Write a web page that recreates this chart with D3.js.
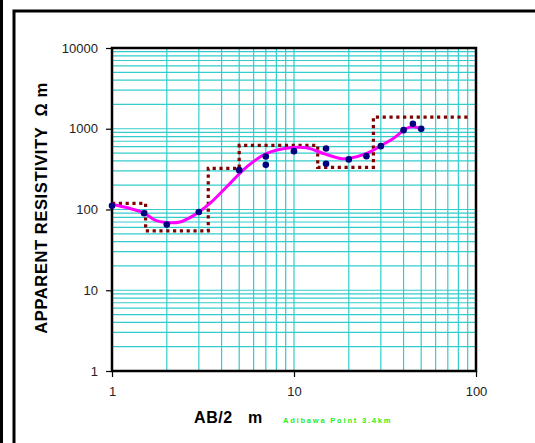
<!DOCTYPE html>
<html>
<head>
<meta charset="utf-8">
<script src="https://cdn.jsdelivr.net/npm/d3@7"></script>
<style>
body { margin: 0; background: #fff; }
text { font-family: Arial, "Liberation Sans", sans-serif; }
</style>
</head>
<body>
<div id="chart"></div>
<script>
// measured sounding points
var abHalf = [1, 1.5, 2, 3, 5, 7, 7, 10, 15, 15, 20, 25, 30, 40, 45, 50];
var rhoApp = [111, 90, 65, 93, 307, 454, 357, 528, 570, 368, 417, 458, 609, 961, 1150, 997];

// fitted curve
var curveAB = [1, 1.49, 1.72, 1.98, 2.36, 2.8, 3.45, 4.27, 5.5, 7.08, 9.5, 11.7, 14.5, 17.9, 19.9, 25.1, 29.7, 35.1, 41.6, 45.2, 49.2];
var curveRho = [116, 91, 74, 69, 70, 84, 119, 191, 338, 494, 580, 580, 494, 429, 427, 494, 609, 758, 1009, 1056, 1009];

// layer model (start of each layer, resistivity)
var layerTop = [1, 1.53, 3.38, 5.0, 13.5, 27.3, 93.5];
var layerRho = [119, 54.5, 323, 621, 332, 1392, 1392];

var xTicks = [1, 10, 100];
var yTicks = [1, 10, 100, 1000, 10000];

var W = 535, H = 443;
var pLeft = 112, pTop = 48, pRight = 476, pBottom = 371;

var svg = d3.select("#chart").append("svg")
    .attr("width", W)
    .attr("height", H);

// outer frame
svg.append("rect").attr("x", 0).attr("y", 0).attr("width", 3).attr("height", H).attr("fill", "#000");
svg.append("rect")
    .attr("x", 14).attr("y", 11).attr("width", W).attr("height", H + 20)
    .attr("fill", "none").attr("stroke", "#000").attr("stroke-width", 3);

var x = d3.scaleLog().domain([1, 100]).range([pLeft, pRight]);
var y = d3.scaleLog().domain([1, 10000]).range([pBottom, pTop]);

// grid
var xMinor = [], yMinor = [];
[1, 10].forEach(function(d) { for (var k = 2; k <= 9; k++) xMinor.push(d * k); });
[1, 10, 100, 1000].forEach(function(d) { for (var k = 2; k <= 9; k++) yMinor.push(d * k); });

var grid = svg.append("g").attr("stroke", "#33cccc").attr("stroke-width", 1.2);
grid.selectAll(".gx").data(xMinor.concat([10])).enter().append("line")
    .attr("x1", function(d) { return x(d); }).attr("x2", function(d) { return x(d); })
    .attr("y1", pTop).attr("y2", pBottom);
grid.selectAll(".gy").data(yMinor.concat([10, 100, 1000])).enter().append("line")
    .attr("y1", function(d) { return y(d); }).attr("y2", function(d) { return y(d); })
    .attr("x1", pLeft).attr("x2", pRight);

// axes
var xAxis = d3.axisBottom(x).tickValues(xTicks).tickFormat(d3.format("d")).tickSize(6).tickPadding(10);
var yAxis = d3.axisLeft(y).tickValues(yTicks).tickFormat(d3.format("d")).tickSize(6).tickPadding(8);

var gx = svg.append("g").attr("transform", "translate(0," + pBottom + ")").call(xAxis);
var gy = svg.append("g").attr("transform", "translate(" + pLeft + ",0)").call(yAxis);
[gx, gy].forEach(function(g) {
    g.select(".domain").remove();
    g.selectAll("line").attr("stroke", "#000").attr("stroke-width", 1.2);
    g.selectAll("text").attr("font-size", 13).attr("fill", "#222");
});

// plot border
svg.append("rect")
    .attr("x", pLeft).attr("y", pTop).attr("width", pRight - pLeft).attr("height", pBottom - pTop)
    .attr("fill", "none").attr("stroke", "#000").attr("stroke-width", 2.5);

// layer model step line
var steps = layerTop.map(function(d, i) { return [d, layerRho[i]]; });
svg.append("path")
    .datum(steps)
    .attr("d", d3.line().x(function(d) { return x(d[0]); }).y(function(d) { return y(d[1]); }).curve(d3.curveStepAfter))
    .attr("fill", "none").attr("stroke", "#800000").attr("stroke-width", 3.2)
    .attr("stroke-dasharray", "3.2,3.6");

// fitted curve
var cpts = curveAB.map(function(d, i) { return [d, curveRho[i]]; });
svg.append("path")
    .datum(cpts)
    .attr("d", d3.line().x(function(d) { return x(d[0]); }).y(function(d) { return y(d[1]); }).curve(d3.curveCatmullRom))
    .attr("fill", "none").attr("stroke", "#ff00ff").attr("stroke-width", 3);

// points
svg.selectAll(".pt").data(abHalf).enter().append("circle")
    .attr("cx", function(d) { return x(d); })
    .attr("cy", function(d, i) { return y(rhoApp[i]); })
    .attr("r", 3.3)
    .attr("fill", "#000080");

// titles
svg.append("text")
    .attr("transform", "translate(47,208) rotate(-90)")
    .attr("text-anchor", "middle")
    .attr("font-size", 16.5).attr("font-weight", "bold")
    .attr("letter-spacing", 0.6)
    .attr("xml:space", "preserve")
    .text("APPARENT RESISTIVITY  Ω m");

svg.append("text")
    .attr("x", 194).attr("y", 423)
    .attr("font-size", 16).attr("font-weight", "bold")
    .attr("letter-spacing", 0.6)
    .attr("xml:space", "preserve")
    .text("AB/2   m");

svg.append("text")
    .attr("x", 283).attr("y", 423)
    .attr("font-size", 7.5).attr("font-weight", "bold")
    .attr("letter-spacing", 1.8)
    .attr("fill", "#22ee22")
    .text("Adibawa Point 3.4km");
</script>
</body>
</html>
